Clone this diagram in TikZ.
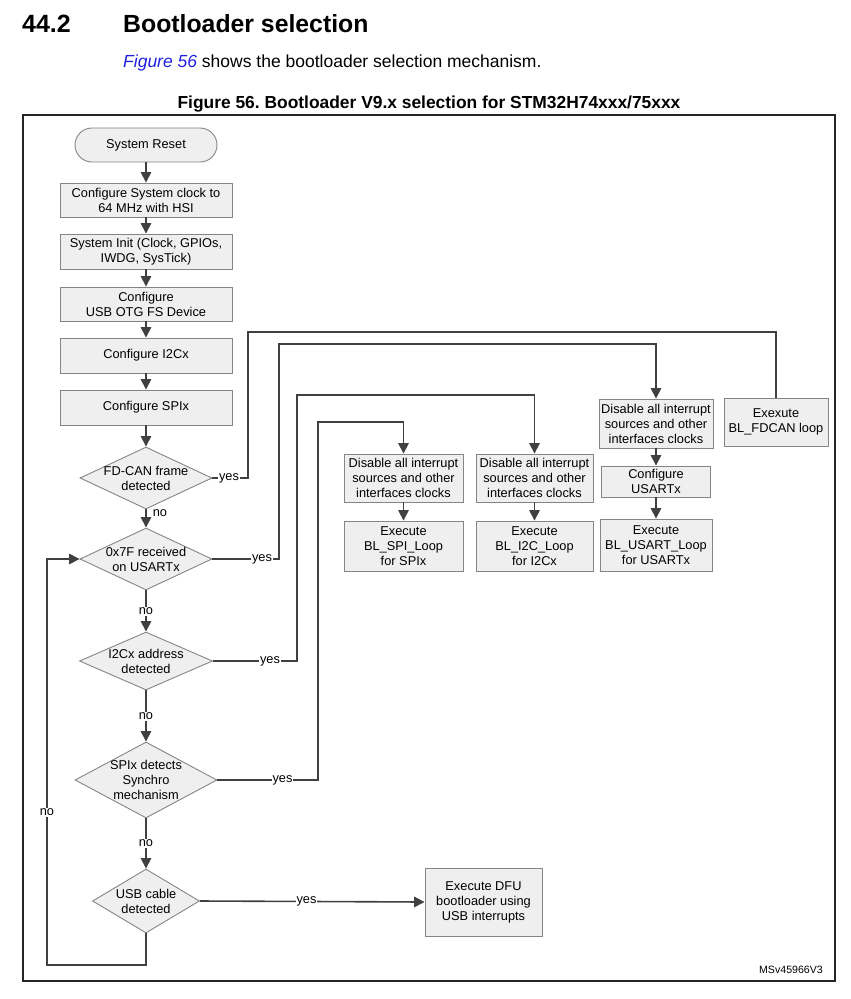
\documentclass[tikz,border=0pt]{standalone}
\usepackage{fontspec}
\setmainfont{Liberation Sans}
\usetikzlibrary{shapes.geometric,arrows.meta}
\definecolor{boxfill}{HTML}{EFEFEF}
\definecolor{boxline}{HTML}{858585}
\definecolor{conn}{HTML}{404040}
\definecolor{linkblue}{HTML}{1F1FE0}
\frenchspacing
\begin{document}
\begin{tikzpicture}[x=1pt,y=-1pt,
  txt/.style={font=\fontsize{12.8}{15}\selectfont, align=center},
  box/.style={txt, draw=boxline, fill=boxfill, line width=0.9pt, inner sep=0pt},
  dia/.style={diamond, draw=boxline, fill=boxfill, line width=0.9pt, inner sep=0pt},
  arr/.style={draw=conn, line width=1.6pt, -{Triangle[length=10.5pt,width=10.5pt]}},
  ln/.style={draw=conn, line width=1.6pt},
  lab/.style={txt, fill=white, inner sep=1pt}
]
\useasboundingbox (0,0) rectangle (851,999);
% headings
\node[anchor=base west, font=\bfseries\fontsize{25}{28}\selectfont, inner sep=0] (hnum) at (22,32) {44.2};
\node[anchor=base west, font=\bfseries\fontsize{24.8}{28}\selectfont, inner sep=0] (htitle) at (123,32) {Bootloader selection};
\node[anchor=base west, font=\fontsize{17.5}{20}\selectfont, inner sep=0] (body) at (123,67) {\textcolor{linkblue}{\itshape Figure 56} shows the bootloader selection mechanism.};
\node[anchor=base, font=\bfseries\fontsize{17.4}{20}\selectfont, inner sep=0] (cap) at (429,108) {Figure 56. Bootloader V9.x selection for STM32H74xxx/75xxx};
% frame
\draw[line width=1.3pt, draw=black!85] (23,115) rectangle (835,981);
% left column
\node[box, rounded corners=17pt, minimum width=142pt, minimum height=34pt] (reset) at (146,145) {System Reset};
\node[box, minimum width=172pt, minimum height=34pt] (clk) at (146,200) {Configure System clock to\\64 MHz with HSI};
\node[box, minimum width=172pt, minimum height=35pt] (init) at (146,251.5) {System Init (Clock, GPIOs,\\IWDG, SysTick)};
\node[box, minimum width=172pt, minimum height=34pt] (usb) at (146,304) {Configure\\USB OTG FS Device};
\node[box, minimum width=172pt, minimum height=35pt] (i2c) at (146,355.5) {Configure I2Cx};
\node[box, minimum width=172pt, minimum height=35pt] (spi) at (146,407.5) {Configure SPIx};
% diamonds
\node[dia, minimum width=132pt, minimum height=62pt] (d1) at (146,478) {};
\node[txt] (d1t) at (146,478) {FD-CAN frame\\detected};
\node[dia, minimum width=132pt, minimum height=62pt] (d2) at (146,559) {};
\node[txt] (d2t) at (146,559) {0x7F received\\on USARTx};
\node[dia, minimum width=133pt, minimum height=58pt] (d3) at (146,661) {};
\node[txt] (d3t) at (146,661) {I2Cx address\\detected};
\node[dia, minimum width=142pt, minimum height=76pt] (d4) at (146,780) {};
\node[txt] (d4t) at (146,780) {SPIx detects\\Synchro\\mechanism};
\node[dia, minimum width=107pt, minimum height=64pt] (d5) at (146,901) {};
\node[txt] (d5t) at (146,901) {USB cable\\detected};
% right boxes
\node[box, minimum width=119pt, minimum height=48pt] (spidis) at (403.5,478) {Disable all interrupt\\sources and other\\interfaces clocks};
\node[box, minimum width=119pt, minimum height=50pt] (spiexe) at (403.5,546) {Execute\\BL\_SPI\_Loop\\for SPIx};
\node[box, minimum width=117pt, minimum height=48pt] (i2cdis) at (534.5,478) {Disable all interrupt\\sources and other\\interfaces clocks};
\node[box, minimum width=117pt, minimum height=50pt] (i2cexe) at (534.5,546) {Execute\\BL\_I2C\_Loop\\for I2Cx};
\node[box, minimum width=114pt, minimum height=49pt] (usdis) at (656,423.5) {Disable all interrupt\\sources and other\\interfaces clocks};
\node[box, minimum width=109pt, minimum height=31pt] (uscfg) at (656,481.5) {Configure\\USARTx};
\node[box, minimum width=112pt, minimum height=52pt] (usexe) at (656,545) {Execute\\BL\_USART\_Loop\\for USARTx};
\node[box, minimum width=104pt, minimum height=48pt] (fdcan) at (776,422) {Exexute\\BL\_FDCAN loop};
\node[box, minimum width=117pt, minimum height=68pt] (dfu) at (483.5,902) {Execute DFU\\bootloader using\\USB interrupts};
% left column arrows
\draw[arr] (reset) -- (clk);
\draw[arr] (clk) -- (init);
\draw[arr] (init) -- (usb);
\draw[arr] (usb) -- (i2c);
\draw[arr] (i2c) -- (spi);
\draw[arr] (spi) -- (d1.north);
\draw[arr] (d1.south) -- (d2.north);
\draw[arr] (d2.south) -- (d3.north);
\draw[arr] (d3.south) -- (d4.north);
\draw[arr] (d4.south) -- (d5.north);
\node[txt, inner sep=0pt] (no1) at (160,513) {no};
\node[lab] (no2) at (146,611) {no};
\node[lab] (no3) at (146,716) {no};
\node[lab] (no4) at (146,843) {no};
% right column arrows
\draw[arr] (spidis) -- (spiexe);
\draw[arr] (i2cdis) -- (i2cexe);
\draw[arr] (usdis) -- (uscfg);
\draw[arr] (uscfg) -- (usexe);
% yes branches
\draw[ln] (d1.east) -- (248,478) -- (248,332) -- (776,332) -- (fdcan.north);
\node[lab] (y1) at (229,478) {yes};
\draw[arr] (d2.east) -- (279,559) -- (279,344) -- (656,344) -- (usdis.north);
\node[lab] (y2) at (262,559) {yes};
\draw[arr] (d3.east) -- (297,661) -- (297,395) -- (534.5,395) -- (i2cdis.north);
\node[lab] (y3) at (270,661) {yes};
\draw[arr] (d4.east) -- (318,780) -- (318,422) -- (403.5,422) -- (spidis.north);
\node[lab] (y4) at (282.5,780) {yes};
\draw[arr] (d5.east) -- (dfu.west);
\node[lab] (y5) at (306.5,901) {yes};
% loop back
\draw[arr] (d5.south) -- (146,965) -- (47,965) -- (47,559) -- (d2.west);
\node[lab] (no5) at (47,812) {no};
% id
\node[anchor=base east, font=\fontsize{10.6}{12}\selectfont, inner sep=0] (msid) at (823,973) {MSv45966V3};
\end{tikzpicture}
\end{document}
